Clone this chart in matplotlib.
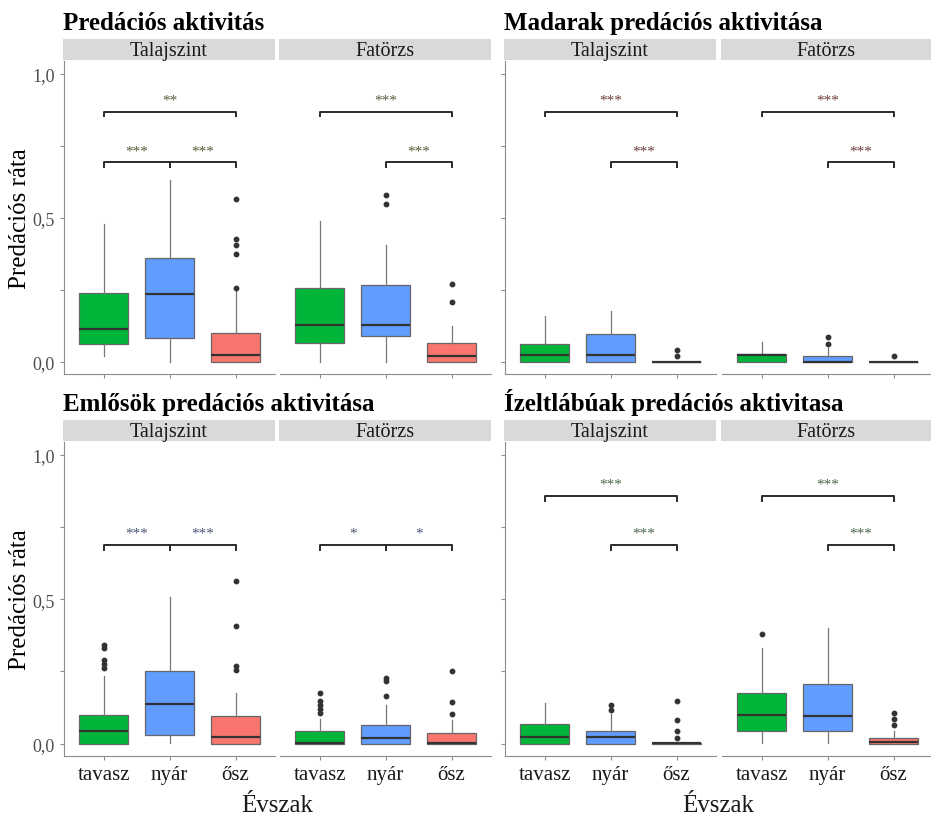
import matplotlib

matplotlib.use("Agg")
import matplotlib.pyplot as plt  # noqa: E402

plt.rcParams.update({"font.family": ["Liberation Serif", "DejaVu Serif"]})

W, H = 931, 820
SEASONS = ["tavasz", "nyár", "ősz"]
FACETS = ["Talajszint", "Fatörzs"]
COLORS = ["#00B539", "#619CFF", "#F8766D"]
TITLES = ["Predációs aktivitás", "Madarak predációs aktivitása",
          "Emlősök predációs aktivitása", "Ízeltlábúak predációs aktivitasa"]

# (whislo, q1, med, q3, whishi) per season; fliers separately
OSSZES_TALAJ = [(0.021, 0.061, 0.112, 0.238, 0.479),
                (0.0, 0.082, 0.236, 0.360, 0.630),
                (0.0, 0.0, 0.023, 0.100, 0.244)]
OSSZES_TALAJ_OUT = [[], [], [0.256, 0.375, 0.407, 0.425, 0.565]]
OSSZES_FA = [(0.0, 0.064, 0.127, 0.256, 0.488),
             (0.0, 0.089, 0.127, 0.265, 0.404),
             (0.0, 0.0, 0.021, 0.064, 0.125)]
OSSZES_FA_OUT = [[], [0.549, 0.579], [0.206, 0.270]]

MADAR_TALAJ = [(0.0, 0.0, 0.024, 0.0625, 0.159),
               (0.0, 0.0, 0.022, 0.095, 0.175),
               (0.0, 0.0, 0.0, 0.0, 0.0)]
MADAR_TALAJ_OUT = [[], [], [0.020, 0.042]]
MADAR_FA = [(0.0, 0.0, 0.023, 0.025, 0.068),
            (0.0, 0.0, 0.0, 0.020, 0.047),
            (0.0, 0.0, 0.0, 0.0, 0.0)]
MADAR_FA_OUT = [[], [0.0625, 0.086], [0.020]]

EMLOS_TALAJ = [(0.0, 0.0, 0.044, 0.099, 0.233),
               (0.003, 0.029, 0.136, 0.253, 0.509),
               (0.0, 0.0, 0.023, 0.095, 0.176)]
EMLOS_TALAJ_OUT = [[0.263, 0.275, 0.288, 0.332, 0.340], [],
                   [0.254, 0.269, 0.407, 0.563]]
EMLOS_FA = [(0.0, 0.0, 0.003, 0.042, 0.085),
            (0.0, 0.0, 0.021, 0.063, 0.134),
            (0.0, 0.0, 0.003, 0.036, 0.083)]
EMLOS_FA_OUT = [[0.107, 0.120, 0.134, 0.149, 0.176], [0.165, 0.217, 0.228],
                [0.104, 0.145, 0.250]]

IZELT_TALAJ = [(0.0, 0.0, 0.023, 0.068, 0.142),
               (0.0, 0.0, 0.023, 0.045, 0.104),
               (0.0, 0.0, 0.003, 0.003, 0.003)]
IZELT_TALAJ_OUT = [[], [0.115, 0.134], [0.021, 0.042, 0.083, 0.148]]
IZELT_FA = [(0.003, 0.042, 0.098, 0.174, 0.332),
            (0.003, 0.043, 0.096, 0.206, 0.401),
            (0.0, 0.0, 0.005, 0.020, 0.042)]
IZELT_FA_OUT = [[0.381], [], [0.063, 0.084, 0.105]]

# significance brackets: (facet, from, to, height, label)
OSSZES_SIG = [(0, 0, 2, 0.869, "**"), (0, 0, 1, 0.693, "***"), (0, 1, 2, 0.693, "***"),
              (1, 0, 2, 0.869, "***"), (1, 1, 2, 0.693, "***")]
MADAR_SIG = [(0, 0, 2, 0.869, "***"), (0, 1, 2, 0.693, "***"),
             (1, 0, 2, 0.869, "***"), (1, 1, 2, 0.693, "***")]
EMLOS_SIG = [(0, 0, 1, 0.689, "***"), (0, 1, 2, 0.689, "***"),
             (1, 0, 1, 0.689, "*"), (1, 1, 2, 0.689, "*")]
IZELT_SIG = [(0, 0, 2, 0.858, "***"), (0, 1, 2, 0.689, "***"),
             (1, 0, 2, 0.858, "***"), (1, 1, 2, 0.689, "***")]
SIG_COLORS = ["#5a5a3c", "#6e3c3c", "#4c5874", "#4a6a4e"]

PANELS = [
    (OSSZES_TALAJ, OSSZES_TALAJ_OUT, OSSZES_FA, OSSZES_FA_OUT, OSSZES_SIG),
    (MADAR_TALAJ, MADAR_TALAJ_OUT, MADAR_FA, MADAR_FA_OUT, MADAR_SIG),
    (EMLOS_TALAJ, EMLOS_TALAJ_OUT, EMLOS_FA, EMLOS_FA_OUT, EMLOS_SIG),
    (IZELT_TALAJ, IZELT_TALAJ_OUT, IZELT_FA, IZELT_FA_OUT, IZELT_SIG),
]

STEP = 66.0  # px per category
YLIM = (-0.043, 1.045)
AX_GREY = "#8c8c8c"


def px_axes(fig, x0, y0, x1, y1, **kw):
    return fig.add_axes([x0 / W, 1 - y1 / H, (x1 - x0) / W, (y1 - y0) / H], **kw)


fig = plt.figure(figsize=(W / 100, H / 100), dpi=100)

# panel geometry: (left facet x0, right facet x0, plot top, plot bottom, strip top, title baseline)
GEOM = [(64, 280, 62, 375, 40, 30), (505, 722, 62, 375, 40, 30),
        (64, 280, 443, 757, 421, 411), (505, 722, 443, 757, 421, 411)]

for p, (geom, data) in enumerate(zip(GEOM, PANELS)):
    lx, rx, top, bot, stop, tbase = geom
    talaj, talaj_out, fa, fa_out, sigs = data
    fig.text((lx - 1) / W, 1 - tbase / H, TITLES[p], fontsize=18,
             fontweight="bold", ha="left", va="baseline")
    for f, (x0, stats, outs) in enumerate([(lx, talaj, talaj_out), (rx, fa, fa_out)]):
        x1 = min(x0 + 3.2 * STEP, W)
        ax = px_axes(fig, x0, top, x1, bot)
        sax = px_axes(fig, x0 - 1, stop, x1, top - 1)
        sax.set_facecolor("#d9d9d9")
        sax.set_xticks([]); sax.set_yticks([])
        for s in sax.spines.values():
            s.set_visible(False)
        sax.text(0.5, 0.45, FACETS[f], ha="center", va="center", fontsize=14.5,
                 color="#1a1a1a", transform=sax.transAxes)

        bstats = [dict(whislo=s[0], q1=s[1], med=s[2], q3=s[3], whishi=s[4],
                       fliers=o) for s, o in zip(stats, outs)]
        bp = ax.bxp(bstats, positions=[1, 2, 3], widths=0.75, patch_artist=True,
                    showcaps=False,
                    boxprops=dict(edgecolor="#666666", linewidth=0.9),
                    whiskerprops=dict(color="#777777", linewidth=0.9),
                    medianprops=dict(color="#333333", linewidth=1.6),
                    flierprops=dict(marker="o", markersize=3.2,
                                    markerfacecolor="#333333",
                                    markeredgecolor="#333333"))
        for patch, c in zip(bp["boxes"], COLORS):
            patch.set_facecolor(c)

        for sf, i, j, y, lab in sigs:
            if sf != f:
                continue
            ax.plot([i + 1, i + 1, j + 1, j + 1], [y - 0.02, y, y, y - 0.02],
                    color="#2b2b2b", lw=1.4, solid_capstyle="butt")
            ax.text((i + j) / 2 + 1, y + 0.018, lab, ha="center", va="bottom",
                    fontsize=11, color=SIG_COLORS[p])

        ax.set_xlim(0.4, 0.4 + (x1 - x0) / STEP)
        ax.set_ylim(*YLIM)
        for s in ["top", "right"]:
            ax.spines[s].set_visible(False)
        ax.spines["bottom"].set_color(AX_GREY)
        ax.spines["left"].set_color(AX_GREY)
        ax.spines["left"].set_visible(f == 0)
        ax.set_xticks([1, 2, 3])
        ax.tick_params(colors=AX_GREY, length=3, width=0.8)
        if p >= 2:
            ax.set_xticklabels(SEASONS, fontsize=15, color="#1a1a1a")
        else:
            ax.set_xticklabels([])
        ax.set_yticks([0, 0.25, 0.5, 0.75, 1.0])
        if f == 0 and p % 2 == 0:
            ax.set_yticklabels(["0,0", "", "0,5", "", "1,0"], fontsize=13,
                               color="#4d4d4d")
        else:
            ax.set_yticklabels([])
        if f == 1:
            ax.tick_params(axis="y", left=False)
        ax.set_facecolor("none")

    if p % 2 == 0:
        fig.text(20 / W, 1 - (top + bot) / 2 / H, "Predációs ráta", rotation=90,
                 ha="center", va="center", fontsize=18)
    if p >= 2:
        fig.text((lx + min(rx + 3.2 * STEP, W)) / 2 / W, 1 - 806 / H, "Évszak",
                 ha="center", va="center", fontsize=18, color="#1a1a1a")

fig.savefig("out.png", dpi=100)
